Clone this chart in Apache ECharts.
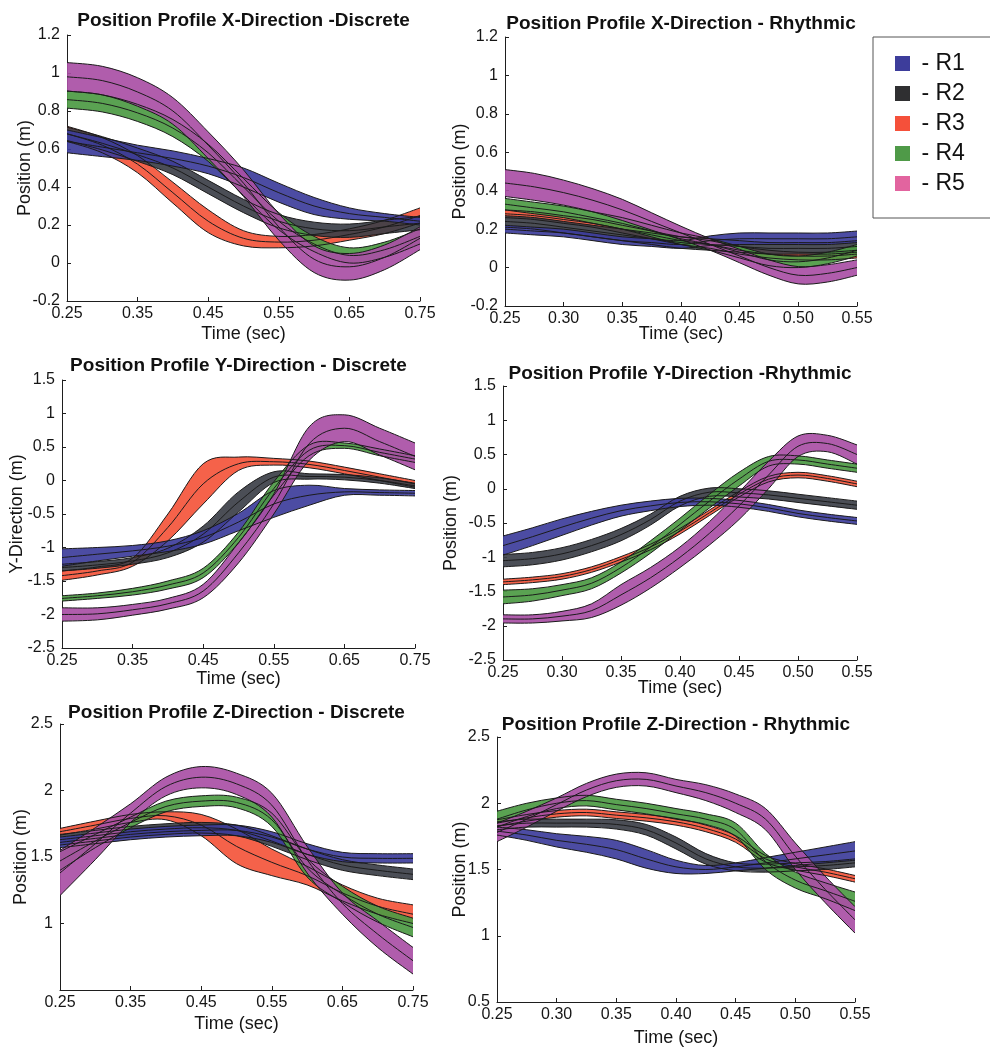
<!DOCTYPE html>
<html>
<head>
<meta charset="utf-8">
<title>Position Profiles</title>
<script src="https://cdn.jsdelivr.net/npm/echarts@6/dist/echarts.min.js"></script>
<style>
  html, body { margin: 0; padding: 0; background: #fff; }
  #chart { width: 990px; height: 1049px; }
</style>
</head>
<body>
<div id="chart"></div>
<script>
// time samples (sec)
const tDisc = [0.25, 0.30, 0.35, 0.40, 0.45, 0.50, 0.55, 0.60, 0.65, 0.70, 0.75];
const tRhy = [0.25, 0.275, 0.30, 0.325, 0.35, 0.375, 0.40, 0.425, 0.45, 0.475, 0.50, 0.525, 0.55];

const runs = ['R1', 'R2', 'R3', 'R4', 'R5'];
// order in which the bands are painted (R3 lowest, then R2, R1, R4, R5)
const paintOrder = [2, 1, 0, 3, 4];

// X direction, discrete: mean and half band width per run
const xdM1 = [0.64, 0.61, 0.58, 0.55, 0.51, 0.45, 0.37, 0.30, 0.26, 0.24, 0.22];
const xdS1 = [0.06, 0.05, 0.04, 0.04, 0.04, 0.05, 0.05, 0.045, 0.03, 0.02, 0.02];
const xdM2 = [0.68, 0.63, 0.57, 0.50, 0.40, 0.30, 0.22, 0.18, 0.17, 0.19, 0.21];
const xdS2 = [0.035, 0.035, 0.035, 0.035, 0.035, 0.035, 0.035, 0.035, 0.035, 0.035, 0.035];
const xdM3 = [0.68, 0.62, 0.52, 0.37, 0.22, 0.13, 0.11, 0.12, 0.15, 0.19, 0.25];
const xdS3 = [0.04, 0.04, 0.045, 0.055, 0.06, 0.04, 0.03, 0.03, 0.03, 0.035, 0.04];
const xdM4 = [0.86, 0.84, 0.79, 0.71, 0.58, 0.40, 0.22, 0.10, 0.04, 0.07, 0.14];
const xdS4 = [0.045, 0.045, 0.045, 0.045, 0.045, 0.045, 0.045, 0.04, 0.04, 0.04, 0.04];
const xdM5 = [0.98, 0.96, 0.90, 0.80, 0.62, 0.42, 0.19, 0.02, -0.02, 0.03, 0.13];
const xdS5 = [0.075, 0.075, 0.075, 0.07, 0.07, 0.07, 0.07, 0.07, 0.07, 0.065, 0.06];

// X direction, rhythmic
const xrM1 = [0.20, 0.19, 0.18, 0.16, 0.14, 0.13, 0.12, 0.14, 0.15, 0.15, 0.15, 0.15, 0.16];
const xrS1 = [0.02, 0.02, 0.02, 0.02, 0.02, 0.02, 0.02, 0.025, 0.03, 0.03, 0.03, 0.03, 0.03];
const xrM2 = [0.24, 0.23, 0.21, 0.19, 0.17, 0.15, 0.13, 0.12, 0.11, 0.10, 0.10, 0.10, 0.11];
const xrS2 = [0.03, 0.03, 0.03, 0.03, 0.03, 0.03, 0.03, 0.03, 0.03, 0.03, 0.03, 0.03, 0.03];
const xrM3 = [0.28, 0.27, 0.25, 0.23, 0.20, 0.17, 0.14, 0.12, 0.09, 0.07, 0.06, 0.06, 0.07];
const xrS3 = [0.02, 0.02, 0.02, 0.02, 0.02, 0.02, 0.02, 0.02, 0.02, 0.02, 0.02, 0.02, 0.02];
const xrM4 = [0.33, 0.31, 0.29, 0.26, 0.23, 0.19, 0.15, 0.12, 0.08, 0.04, 0.03, 0.05, 0.09];
const xrS4 = [0.03, 0.03, 0.03, 0.03, 0.03, 0.03, 0.03, 0.03, 0.03, 0.03, 0.03, 0.03, 0.03];
const xrM5 = [0.44, 0.42, 0.39, 0.35, 0.30, 0.24, 0.18, 0.12, 0.06, 0.00, -0.04, -0.03, 0.00];
const xrS5 = [0.07, 0.07, 0.065, 0.06, 0.055, 0.045, 0.035, 0.03, 0.035, 0.04, 0.045, 0.045, 0.04];

// Y direction, discrete
const ydM1 = [-1.15, -1.10, -1.05, -0.98, -0.85, -0.62, -0.35, -0.22, -0.17, -0.18, -0.19];
const ydS1 = [0.13, 0.10, 0.08, 0.08, 0.10, 0.13, 0.20, 0.15, 0.05, 0.04, 0.04];
const ydM2 = [-1.30, -1.26, -1.20, -1.08, -0.80, -0.32, 0.05, 0.06, 0.05, 0.00, -0.08];
const ydS2 = [0.05, 0.05, 0.05, 0.07, 0.12, 0.15, 0.08, 0.04, 0.04, 0.04, 0.04];
const ydM3 = [-1.42, -1.35, -1.22, -0.70, -0.05, 0.25, 0.28, 0.24, 0.15, 0.05, -0.05];
const ydS3 = [0.07, 0.06, 0.06, 0.20, 0.30, 0.10, 0.05, 0.05, 0.05, 0.05, 0.05];
const ydM4 = [-1.76, -1.72, -1.66, -1.56, -1.38, -0.85, -0.12, 0.45, 0.52, 0.42, 0.32];
const ydS4 = [0.04, 0.04, 0.05, 0.06, 0.07, 0.08, 0.10, 0.08, 0.04, 0.05, 0.05];
const ydM5 = [-2.00, -1.99, -1.93, -1.84, -1.65, -1.08, -0.35, 0.55, 0.78, 0.58, 0.36];
const ydS5 = [0.10, 0.09, 0.08, 0.08, 0.10, 0.15, 0.15, 0.25, 0.20, 0.20, 0.20];

// Y direction, rhythmic
const yrM1 = [-0.83, -0.70, -0.56, -0.43, -0.32, -0.25, -0.20, -0.19, -0.22, -0.28, -0.36, -0.42, -0.47];
const yrS1 = [0.14, 0.13, 0.12, 0.10, 0.08, 0.07, 0.06, 0.05, 0.05, 0.05, 0.05, 0.05, 0.05];
const yrM2 = [-1.05, -1.02, -0.95, -0.83, -0.67, -0.45, -0.18, -0.05, -0.06, -0.09, -0.14, -0.19, -0.24];
const yrS2 = [0.09, 0.09, 0.09, 0.09, 0.09, 0.08, 0.07, 0.06, 0.06, 0.06, 0.06, 0.06, 0.06];
const yrM3 = [-1.36, -1.33, -1.28, -1.18, -1.03, -0.85, -0.62, -0.35, -0.08, 0.14, 0.20, 0.15, 0.07];
const yrS3 = [0.04, 0.04, 0.04, 0.04, 0.04, 0.04, 0.04, 0.04, 0.04, 0.04, 0.04, 0.04, 0.04];
const yrM4 = [-1.58, -1.55, -1.48, -1.38, -1.15, -0.85, -0.52, -0.18, 0.14, 0.40, 0.42, 0.36, 0.30];
const yrS4 = [0.10, 0.09, 0.08, 0.08, 0.08, 0.09, 0.09, 0.10, 0.10, 0.07, 0.06, 0.06, 0.06];
const yrM5 = [-1.90, -1.90, -1.86, -1.78, -1.55, -1.30, -1.00, -0.65, -0.25, 0.20, 0.62, 0.66, 0.50];
const yrS5 = [0.06, 0.06, 0.07, 0.10, 0.15, 0.15, 0.15, 0.17, 0.20, 0.20, 0.15, 0.12, 0.14];

// Z direction, discrete
const zdM1 = [1.61, 1.64, 1.67, 1.69, 1.70, 1.70, 1.65, 1.56, 1.50, 1.49, 1.49];
const zdS1 = [0.04, 0.04, 0.04, 0.04, 0.04, 0.04, 0.04, 0.04, 0.035, 0.035, 0.035];
const zdM2 = [1.63, 1.66, 1.69, 1.71, 1.72, 1.70, 1.62, 1.52, 1.44, 1.40, 1.37];
const zdS2 = [0.04, 0.04, 0.04, 0.04, 0.04, 0.04, 0.04, 0.04, 0.04, 0.04, 0.04];
const zdM3 = [1.69, 1.74, 1.79, 1.81, 1.74, 1.58, 1.46, 1.36, 1.23, 1.13, 1.07];
const zdS3 = [0.025, 0.03, 0.03, 0.03, 0.08, 0.13, 0.10, 0.07, 0.06, 0.06, 0.07];
const zdM4 = [1.47, 1.62, 1.76, 1.88, 1.92, 1.91, 1.78, 1.42, 1.22, 1.07, 0.97];
const zdS4 = [0.07, 0.05, 0.04, 0.04, 0.04, 0.04, 0.05, 0.07, 0.06, 0.06, 0.07];
const zdM5 = [1.38, 1.60, 1.83, 2.03, 2.10, 2.05, 1.89, 1.48, 1.15, 0.92, 0.72];
const zdS5 = [0.17, 0.12, 0.07, 0.07, 0.08, 0.08, 0.09, 0.10, 0.08, 0.10, 0.10];

// Z direction, rhythmic
const zrM1 = [1.79, 1.76, 1.72, 1.69, 1.65, 1.58, 1.52, 1.50, 1.52, 1.55, 1.58, 1.61, 1.64];
const zrS1 = [0.03, 0.04, 0.05, 0.06, 0.07, 0.07, 0.05, 0.03, 0.03, 0.04, 0.05, 0.06, 0.07];
const zrM2 = [1.83, 1.85, 1.85, 1.85, 1.84, 1.80, 1.70, 1.58, 1.52, 1.51, 1.52, 1.53, 1.55];
const zrS2 = [0.03, 0.03, 0.03, 0.03, 0.035, 0.04, 0.045, 0.04, 0.03, 0.03, 0.03, 0.03, 0.03];
const zrM3 = [1.85, 1.89, 1.92, 1.93, 1.91, 1.89, 1.86, 1.81, 1.73, 1.58, 1.52, 1.48, 1.43];
const zrS3 = [0.025, 0.025, 0.025, 0.025, 0.025, 0.025, 0.025, 0.025, 0.025, 0.025, 0.025, 0.025, 0.025];
const zrM4 = [1.88, 1.95, 2.00, 2.02, 1.99, 1.96, 1.92, 1.88, 1.80, 1.56, 1.42, 1.34, 1.26];
const zrS4 = [0.06, 0.05, 0.04, 0.04, 0.04, 0.04, 0.04, 0.04, 0.05, 0.06, 0.06, 0.06, 0.07];
const zrM5 = [1.78, 1.88, 1.99, 2.10, 2.17, 2.18, 2.13, 2.08, 2.00, 1.88, 1.60, 1.35, 1.12];
const zrS5 = [0.07, 0.06, 0.05, 0.05, 0.05, 0.05, 0.05, 0.06, 0.07, 0.08, 0.10, 0.10, 0.10];

const FONT = '"Liberation Sans", Arial, Helvetica, sans-serif';
const bandColors = ['#3d3d9b', '#3c3f48', '#f4553b', '#4c9a43', '#a94fa5'];
const legendColors = ['#3d3d9b', '#2f2f31', '#f5503a', '#4f9a48', '#e2649f'];

// layout of the six panels: [left, top, width, height]
const panels = [
  { title: 'Position Profile X-Direction -Discrete', rect: [67, 35, 353, 266], titleTop: 11,
    t: tDisc, xMax: 0.75, xStep: 0.1, yMin: -0.2, yMax: 1.2, yStep: 0.2, yName: 'Position (m)',
    xGap: 24, yGap: 33, mean: [xdM1, xdM2, xdM3, xdM4, xdM5], sd: [xdS1, xdS2, xdS3, xdS4, xdS5] },
  { title: 'Position Profile X-Direction - Rhythmic', rect: [505, 37, 352, 269], titleTop: 14,
    t: tRhy, xMax: 0.55, xStep: 0.05, yMin: -0.2, yMax: 1.2, yStep: 0.2, yName: 'Position (m)',
    xGap: 19, yGap: 36, mean: [xrM1, xrM2, xrM3, xrM4, xrM5], sd: [xrS1, xrS2, xrS3, xrS4, xrS5] },
  { title: 'Position Profile Y-Direction - Discrete', rect: [62, 380, 353, 268], titleTop: 356,
    t: tDisc, xMax: 0.75, xStep: 0.1, yMin: -2.5, yMax: 1.5, yStep: 0.5, yName: 'Y-Direction (m)',
    xGap: 22, yGap: 36, mean: [ydM1, ydM2, ydM3, ydM4, ydM5], sd: [ydS1, ydS2, ydS3, ydS4, ydS5] },
  { title: 'Position Profile Y-Direction -Rhythmic', rect: [503, 386, 354, 274], titleTop: 364,
    t: tRhy, xMax: 0.55, xStep: 0.05, yMin: -2.5, yMax: 1.5, yStep: 0.5, yName: 'Position (m)',
    xGap: 19, yGap: 43, mean: [yrM1, yrM2, yrM3, yrM4, yrM5], sd: [yrS1, yrS2, yrS3, yrS4, yrS5] },
  { title: 'Position Profile Z-Direction - Discrete', rect: [60, 724, 353, 266], titleTop: 703,
    t: tDisc, xMax: 0.75, xStep: 0.1, yMin: 0.5, yMax: 2.5, yStep: 0.5, yName: 'Position (m)',
    xGap: 25, yGap: 30, hideMin: true, mean: [zdM1, zdM2, zdM3, zdM4, zdM5], sd: [zdS1, zdS2, zdS3, zdS4, zdS5] },
  { title: 'Position Profile Z-Direction - Rhythmic', rect: [497, 737, 358, 265], titleTop: 715,
    t: tRhy, xMax: 0.55, xStep: 0.05, yMin: 0.5, yMax: 2.5, yStep: 0.5, yName: 'Position (m)',
    xGap: 27, yGap: 28, mean: [zrM1, zrM2, zrM3, zrM4, zrM5], sd: [zrS1, zrS2, zrS3, zrS4, zrS5] }
];

const axisLineStyle = { color: '#1e1e1e', width: 1 };
const labelStyle = { fontFamily: FONT, fontSize: 16, color: '#151515' };
const nameStyle = { fontFamily: FONT, fontSize: 18, color: '#151515' };

// smooth curve through pixel points (cardinal spline as cubic beziers)
const f = v => v.toFixed(2);
function curveSegs(pts) {
  let d = '';
  for (let i = 0; i < pts.length - 1; i++) {
    const p0 = pts[Math.max(i - 1, 0)], p1 = pts[i], p2 = pts[i + 1], p3 = pts[Math.min(i + 2, pts.length - 1)];
    const c1 = [p1[0] + (p2[0] - p0[0]) / 6, p1[1] + (p2[1] - p0[1]) / 6];
    const c2 = [p2[0] - (p3[0] - p1[0]) / 6, p2[1] - (p3[1] - p1[1]) / 6];
    d += ' C' + f(c1[0]) + ',' + f(c1[1]) + ' ' + f(c2[0]) + ',' + f(c2[1]) + ' ' + f(p2[0]) + ',' + f(p2[1]);
  }
  return d;
}
const moveTo = p => 'M' + f(p[0]) + ',' + f(p[1]);

function bandPoints(api, p, k, sign) {
  return p.t.map((x, j) => api.coord([x, p.mean[k][j] + sign * p.sd[k][j]]));
}

const grid = [], xAxis = [], yAxis = [], title = [], series = [];

panels.forEach((p, i) => {
  const [l, top, w, h] = p.rect;
  grid.push({ left: l, top: top, width: w, height: h });
  title.push({
    text: p.title, left: l + w / 2, top: p.titleTop, textAlign: 'center', padding: 0,
    textStyle: { fontFamily: FONT, fontSize: 19, fontWeight: 'bold', color: '#111' }
  });
  xAxis.push({
    gridIndex: i, type: 'value', min: 0.25, max: p.xMax, interval: p.xStep,
    name: 'Time (sec)', nameLocation: 'middle', nameGap: p.xGap, nameMoveOverlap: false, nameTextStyle: nameStyle,
    axisLine: { onZero: false, lineStyle: axisLineStyle },
    axisTick: { inside: true, length: 4, lineStyle: axisLineStyle },
    axisLabel: Object.assign({ margin: 5, formatter: v => v.toFixed(2) }, labelStyle),
    splitLine: { show: false }
  });
  yAxis.push({
    gridIndex: i, type: 'value', min: p.yMin, max: p.yMax, interval: p.yStep,
    name: p.yName, nameLocation: 'middle', nameGap: p.yGap, nameRotate: 90, nameMoveOverlap: false,
    nameTextStyle: nameStyle,
    axisLine: { show: true, onZero: false, lineStyle: axisLineStyle },
    axisTick: { show: true, inside: true, length: 4, lineStyle: axisLineStyle },
    axisLabel: Object.assign({ margin: 7, showMinLabel: !p.hideMin, formatter: v => String(+v.toFixed(2)) }, labelStyle),
    splitLine: { show: false }
  });

  // filled band (mean +/- spread) for each run
  paintOrder.forEach(k => {
    series.push({
      type: 'custom', name: runs[k], coordinateSystem: 'cartesian2d', xAxisIndex: i, yAxisIndex: i,
      clip: true, silent: true, z: 2, itemStyle: { color: bandColors[k] },
      data: [[p.t[0], p.mean[k][0]]],
      renderItem: (params, api) => {
        const hi = bandPoints(api, p, k, 1);
        const lo = bandPoints(api, p, k, -1).reverse();
        const d = moveTo(hi[0]) + curveSegs(hi) + ' L' + f(lo[0][0]) + ',' + f(lo[0][1]) + curveSegs(lo) + ' Z';
        return { type: 'path', shape: { pathData: d }, style: { fill: bandColors[k], opacity: 0.92, stroke: null } };
      }
    });
  });

  // black outlines and mean curves on top of all bands
  series.push({
    type: 'custom', name: 'outline', coordinateSystem: 'cartesian2d', xAxisIndex: i, yAxisIndex: i,
    clip: true, silent: true, z: 3,
    data: [[p.t[0], p.mean[0][0]]],
    renderItem: (params, api) => {
      const children = [];
      runs.forEach((r, k) => {
        [1, 0, -1].forEach(sign => {
          const pts = bandPoints(api, p, k, sign);
          children.push({
            type: 'path', shape: { pathData: moveTo(pts[0]) + curveSegs(pts) },
            style: { fill: 'none', stroke: '#1b1b1b', lineWidth: 1 }
          });
        });
      });
      return { type: 'group', children: children };
    }
  });
});

const chart = echarts.init(document.getElementById('chart'));
chart.setOption({
  animation: false,
  backgroundColor: '#fff',
  title: title,
  grid: grid,
  xAxis: xAxis,
  yAxis: yAxis,
  legend: {
    orient: 'vertical', left: 873, top: 37,
    padding: [15, 60, 23, 22], itemGap: 7, itemWidth: 15, itemHeight: 15,
    borderColor: '#555', borderWidth: 1, icon: 'rect',
    formatter: name => ' - ' + name,
    textStyle: { fontFamily: FONT, fontSize: 23, color: '#111' },
    data: runs.map((r, k) => ({ name: r, itemStyle: { color: legendColors[k], borderWidth: 0 } }))
  },
  series: series
});
</script>
</body>
</html>
